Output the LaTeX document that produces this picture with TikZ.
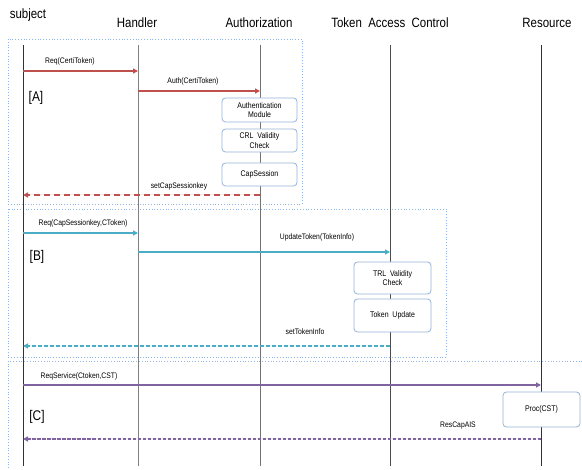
\documentclass[tikz,border=0pt]{standalone}
\usepackage{fontspec}
\setmainfont[FakeStretch=0.85]{Liberation Sans}
\usetikzlibrary{arrows.meta}
\definecolor{cred}{HTML}{C0504D}
\definecolor{cblue}{HTML}{4BACC6}
\definecolor{cpurple}{HTML}{8064A2}
\definecolor{cframe}{HTML}{8EB4E3}
\definecolor{cbox}{HTML}{95B3D7}
\tikzset{
  title/.style={font=\fontsize{13.5}{15}\selectfont, inner sep=0pt},
  msg/.style={font=\fontsize{8}{9}\selectfont, inner sep=0pt},
  tag/.style={font=\fontsize{14}{16}\selectfont, inner sep=0pt},
  life/.style={line width=0.9pt},
  frame/.style={draw=cframe, line width=0.8pt, dotted},
  procbox/.style={draw=cbox, line width=0.8pt, rounded corners=3.5pt, fill=white,
    align=center, font=\fontsize{8.2}{9.5}\selectfont, inner sep=0pt},
  call/.style={line width=1.3pt, -{Triangle[length=5pt,width=5pt]}},
  reply/.style={line width=1.6pt, -{Triangle[length=5pt,width=5pt]}},
}
\begin{document}
\begin{tikzpicture}[x=1pt,y=-1pt]
\useasboundingbox (0,0) rectangle (582,470);
% frames
\draw[frame] (8,39) rectangle (302,204);
\draw[frame] (8,209) rectangle (446,357);
\draw[frame] (8,468) -- (8,361) -- (582,361);
% titles
\node[title] (tS) at (28,15) {subject};
\node[title] (tH) at (137,23) {Handler};
\node[title] (tA) at (259,23) {Authorization};
\node[title] (tT) at (390,23) {Token\ \ Access\ \ Control};
\node[title] (tR) at (547,23) {Resource};
% lifelines
\coordinate (S0) at (23,45); \coordinate (S1) at (23,466);
\coordinate (H0) at (138,45); \coordinate (H1) at (138,466);
\coordinate (A0) at (260,45); \coordinate (A1) at (260,466);
\coordinate (T0) at (390,45); \coordinate (T1) at (390,466);
\coordinate (R0) at (541,45); \coordinate (R1) at (541,466);
\draw[life, draw=black!80] (S0) -- (S1);
\draw[life, draw=black!50] (H0) -- (H1);
\draw[life, draw=black!55] (A0) -- (A1);
\draw[life, draw=black!70] (T0) -- (T1);
\draw[life, draw=black!80] (R0) -- (R1);
% message points
\coordinate (s1) at (23,71); \coordinate (h1) at (138,71);
\coordinate (h2) at (138,91); \coordinate (a2) at (260,91);
\coordinate (a3) at (260,195); \coordinate (s3) at (23,195);
\coordinate (s4) at (23,233); \coordinate (h4) at (138,233);
\coordinate (h5) at (138,252); \coordinate (t5) at (390,252);
\coordinate (t6) at (390,346); \coordinate (s6) at (23,346);
\coordinate (s7) at (23,385); \coordinate (r7) at (541,385);
\coordinate (r8) at (541,439); \coordinate (s8) at (23,439);
% process boxes
\node[procbox, minimum width=75pt, minimum height=24pt] (am) at (259.5,110) {Authentication\\Module};
\node[procbox, minimum width=75pt, minimum height=23pt] (crl) at (259.5,140.5) {CRL\ \ Validity\\Check};
\node[procbox, minimum width=75pt, minimum height=23pt] (cs) at (259.5,174.5) {CapSession};
\node[procbox, minimum width=77pt, minimum height=32pt] (trl) at (392.5,278) {TRL\ \ Validity\\Check};
\node[procbox, minimum width=77pt, minimum height=33pt] (tu) at (392.5,315.5) {Token\ \ Update};
\node[procbox, minimum width=77pt, minimum height=35pt] (pc) at (541.5,409.5) {Proc(CST)};
% messages
\draw[call, draw=cred, fill=cred] (s1) -- (h1);
\draw[call, draw=cred, fill=cred] (h2) -- (a2);
\draw[reply, draw=cred, fill=cred, dash pattern=on 6pt off 4pt] (a3) -- (s3);
\draw[call, draw=cblue, fill=cblue] (s4) -- (h4);
\draw[call, draw=cblue, fill=cblue] (h5) -- (t5);
\draw[reply, draw=cblue, fill=cblue, dash pattern=on 4pt off 2pt] (t6) -- (s6);
\draw[call, draw=cpurple, fill=cpurple] (s7) -- (r7);
\draw[reply, draw=cpurple, fill=cpurple, dash pattern=on 3.5pt off 1.5pt] (r8) -- (s8);
% labels
\node[msg] (l1) at (70,61) {Req(CertiToken)};
\node[msg] (l2) at (193,81) {Auth(CertiToken)};
\node[msg] (l3) at (179,186) {setCapSessionkey};
\node[msg] (l4) at (83,223) {Req(CapSessionkey,CToken)};
\node[msg] (l5) at (317,237) {UpdateToken(TokenInfo)};
\node[msg] (l6) at (305,332) {setTokenInfo};
\node[msg] (l7) at (79,376) {ReqService(Ctoken,CST)};
\node[msg] (l8) at (458,426) {ResCapAIS};
\node[tag] (gA) at (36,98) {[A]};
\node[tag] (gB) at (37,257) {[B]};
\node[tag] (gC) at (37,417) {[C]};
\end{tikzpicture}
\end{document}
